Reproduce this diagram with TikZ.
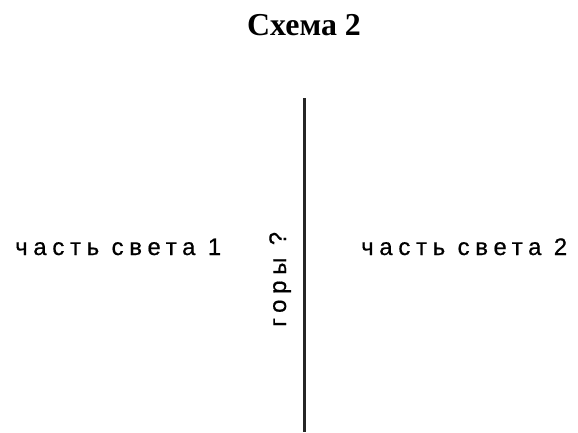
\documentclass[tikz,border=0pt]{standalone}
\usepackage{fontspec}
\newfontfamily\rutitle{Liberation Serif}
\newfontfamily\rutext[LetterSpace=24,FakeBold=0.6]{Liberation Sans}
\usetikzlibrary{positioning}

\begin{document}
\begin{tikzpicture}[x=1bp, y=1bp,
  regionlabel/.style={font=\rutext\fontsize{24}{28}\selectfont, inner sep=0pt}]
  \useasboundingbox (0,0) rectangle (578,432);

  % Title
  \node[font=\rutitle\bfseries\fontsize{32}{36}\selectfont, anchor=base, inner sep=0pt] (title) at (304,396) {Схема 2};

  %--- Dividing line ---
  \coordinate (ridgetop) at (304,334);
  \coordinate (ridgebottom) at (304,0);
  \draw[line width=3bp, black!85] (ridgetop) -- (ridgebottom);

  % Mountains label
  \node[regionlabel, rotate=90, anchor=base west] (mountains) at (286,105) {горы ?};

  %--- Parts of the world ---
  \node[regionlabel, anchor=base west] (part1) at (15,177) {часть света 1};
  \node[regionlabel, anchor=base west] (part2) at (361,177) {часть света 2};
\end{tikzpicture}
\end{document}
